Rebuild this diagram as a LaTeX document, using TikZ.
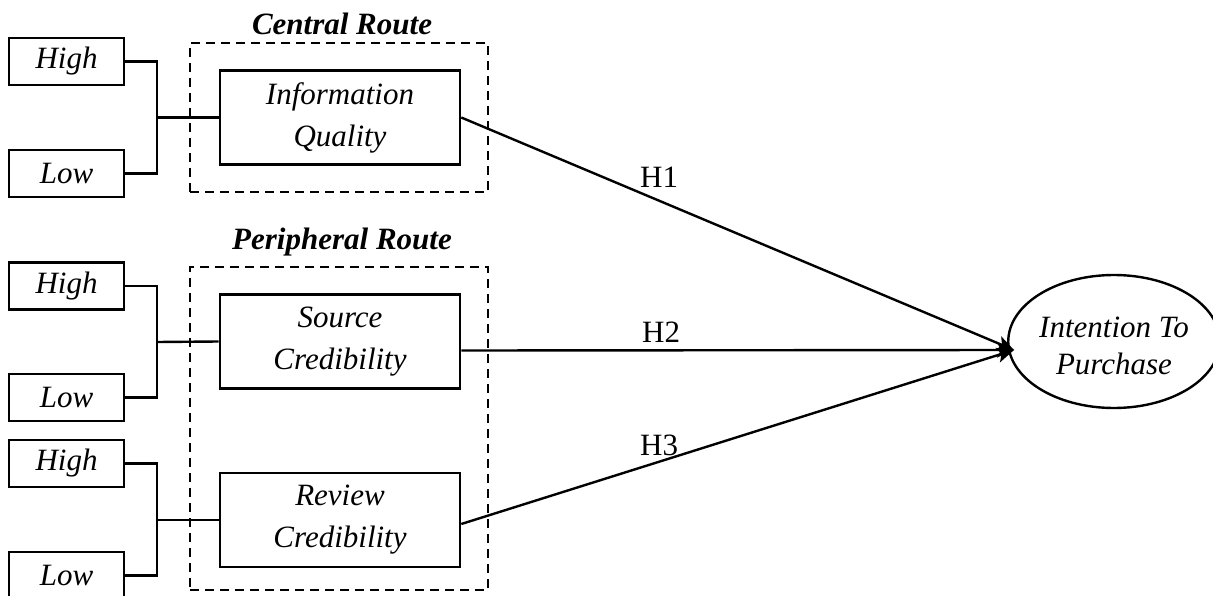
\documentclass[tikz,border=0pt]{standalone}
\usepackage{fontspec}
\setmainfont{Liberation Serif}
\usetikzlibrary{arrows.meta,calc,shapes.geometric}
\begin{document}
\begin{tikzpicture}[x=1pt,y=-1pt,
  every node/.style={font=\fontsize{31}{42}\selectfont\itshape},
  level/.style={draw,line width=2.6pt,minimum width=115pt,minimum height=47pt,inner sep=0pt},
  construct/.style={draw,line width=2.6pt,minimum width=240pt,minimum height=94pt,inner sep=0pt,align=center},
  route/.style={draw,line width=2.3pt,dash pattern=on 9pt off 6pt,minimum width=298pt,inner sep=0pt},
  routelabel/.style={font=\fontsize{31}{36}\selectfont\bfseries\itshape,anchor=base,inner sep=0pt},
  link/.style={line width=2.4pt},
  hyp/.style={line width=2.4pt,-{Stealth[length=17pt,width=15pt,inset=4pt]}},
  hyplabel/.style={font=\fontsize{31}{36}\selectfont\upshape,anchor=base west,inner sep=0pt},
]
\useasboundingbox (0,0) rectangle (1213,596);
\clip (0,0) rectangle (1213,596);

% route groupings
\node[route,minimum height=149pt] (central) at (339,117.5) {};
\node[route,minimum height=323pt] (peripheral) at (339,428.5) {};
\node[routelabel] (clabel) at (342,35) {Central Route};
\node[routelabel] (plabel) at (342,250) {Peripheral Route};

% manipulation levels
\node[level] (hi1) at (66.5,61.5) {High};
\node[level] (lo1) at (66.5,173.5) {Low};
\node[level] (hi2) at (66.5,286) {High};
\node[level] (lo2) at (66.5,397.5) {Low};
\node[level] (hi3) at (66.5,463.5) {High};
\node[level] (lo3) at (66.5,575.5) {Low};

% constructs
\node[construct] (iq) at (340,117.5) {Information\\Quality};
\node[construct] (sc) at (340,341.5) {Source\\Credibility};
\node[construct] (rc) at (340,520) {Review\\Credibility};

\node[ellipse,draw,line width=2.4pt,minimum width=198pt,minimum height=133pt,inner sep=0pt,
      align=center,font=\fontsize{31}{37}\selectfont\itshape] (ito) at (1114,341.5)
      {\rule{0pt}{30pt}Intention To\\Purchase};

% brackets joining the levels
\coordinate (j1) at (157,117.5);
\coordinate (j2) at (157,342);
\coordinate (j3) at (157,520);
\draw[link] (hi1.east) -| (j1) |- (lo1.east);
\draw[link] (j1) -- (iq.west);
\draw[link] (hi2.east) -| (j2) |- (lo2.east);
\draw[link] (j2) -- (sc.west);
\draw[link] (hi3.east) -| (j3) |- (lo3.east);
\draw[link] (j3) -- (rc.west);

% hypotheses
\coordinate (tip) at ($(ito.west)+(7,8.5)$);
\draw[hyp] (iq.east) -- (tip);
\draw[hyp] ($(sc.east)+(0,9)$) -- (tip);
\draw[hyp] ($(rc.east)+(0,4)$) -- (tip);
\node[hyplabel] (h1) at (640,188) {H1};
\node[hyplabel] (h2) at (642,342) {H2};
\node[hyplabel] (h3) at (640,455) {H3};
\end{tikzpicture}
\end{document}
